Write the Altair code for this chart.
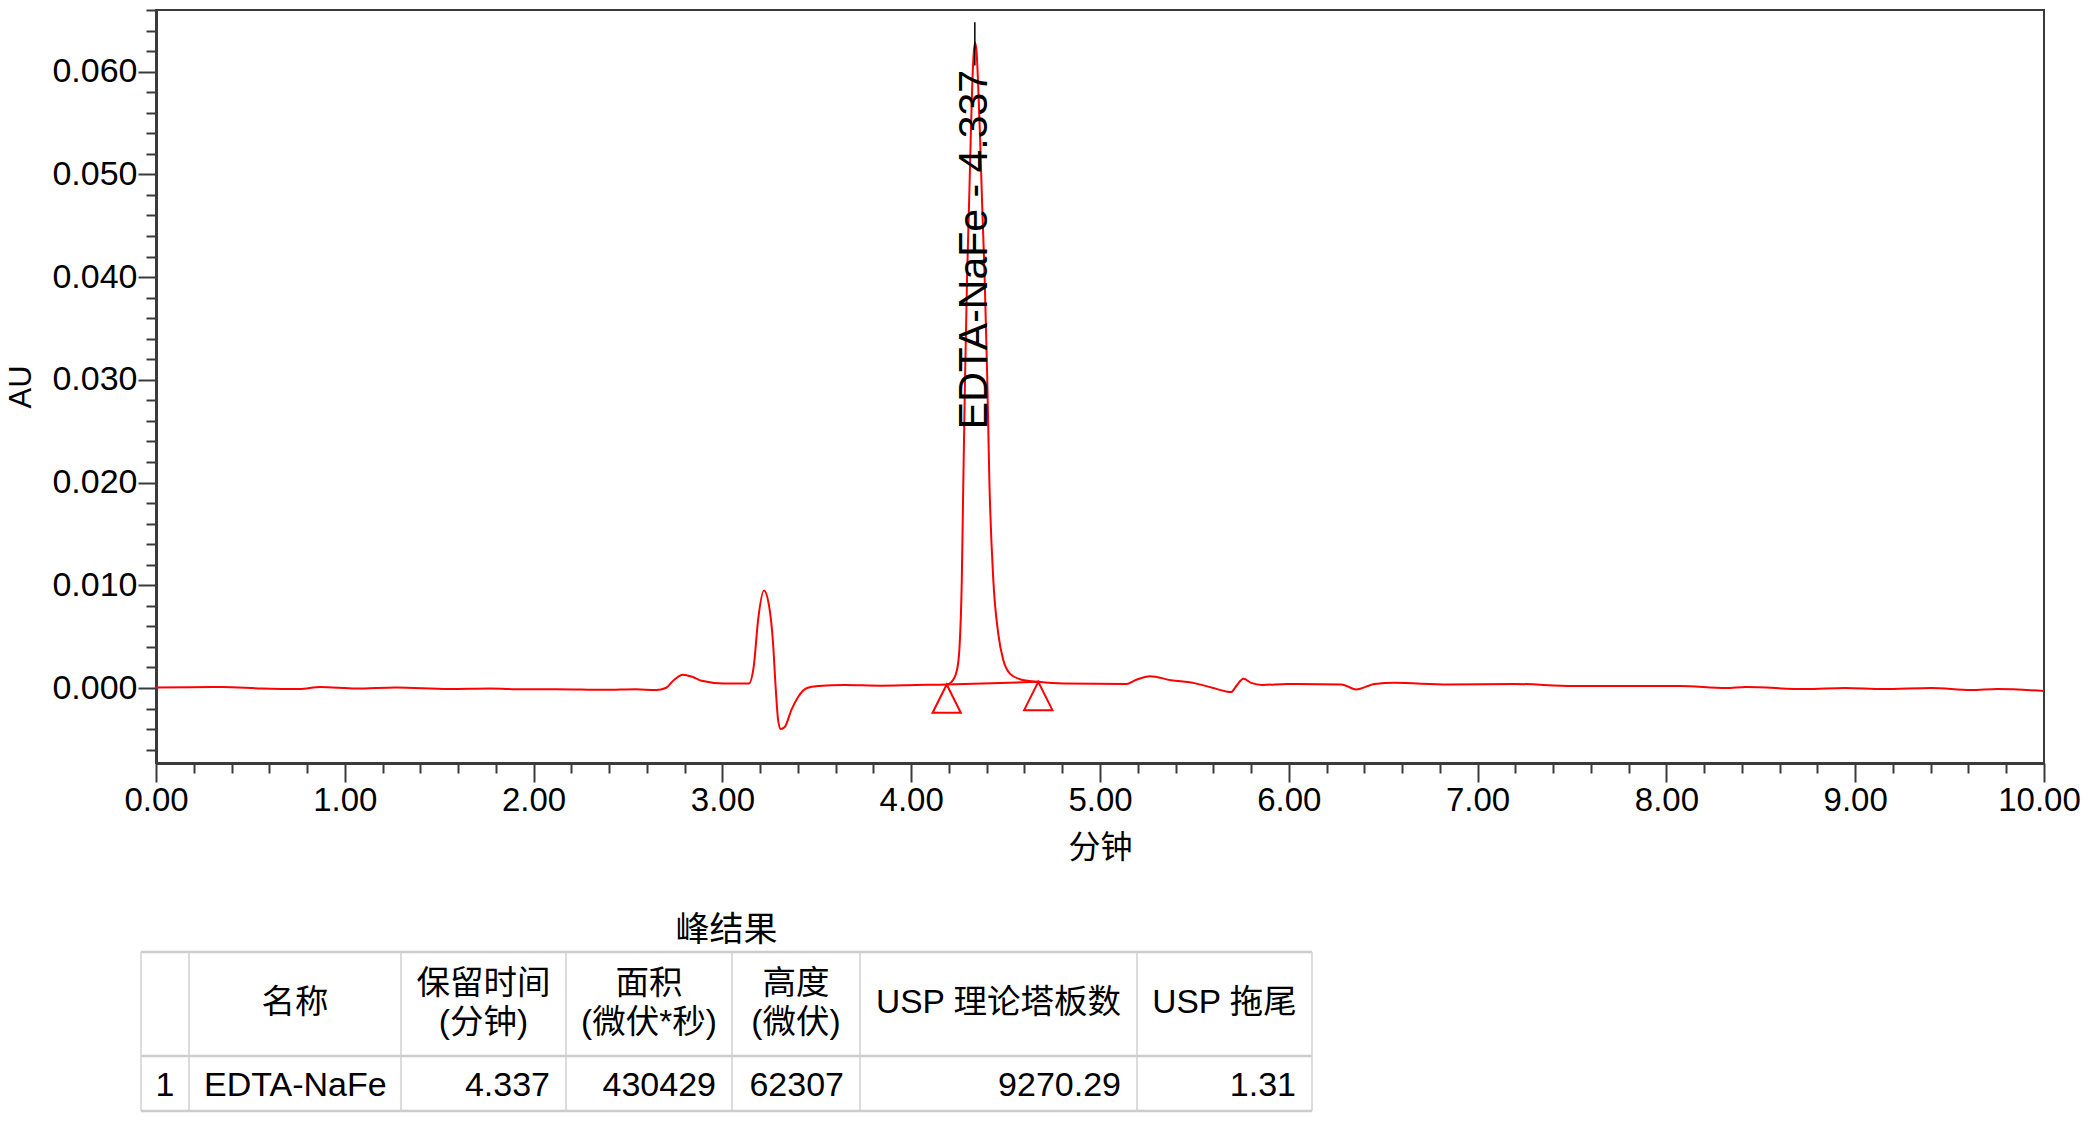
import altair as alt
import pandas as pd

# ---------------- chromatogram data ----------------
time_min = [0.00, 0.18, 0.35, 0.56, 0.76, 0.87, 1.06, 1.27, 1.55, 1.77, 1.94, 2.12,
            2.38, 2.54, 2.65, 2.70, 2.745, 2.79, 2.84, 2.89, 3.01, 3.14, 3.166, 3.189,
            3.22, 3.248, 3.267, 3.283, 3.295, 3.309, 3.33, 3.366, 3.401, 3.448, 3.507,
            3.649, 3.838, 4.027, 4.188, 4.214, 4.242, 4.256, 4.268, 4.276, 4.285, 4.296,
            4.307, 4.316, 4.323, 4.330, 4.338, 4.346, 4.354, 4.364, 4.375, 4.389, 4.403,
            4.414, 4.435, 4.461, 4.488, 4.523, 4.576, 4.673, 4.809, 5.14, 5.187, 5.265,
            5.376, 5.494, 5.60, 5.695, 5.718, 5.760, 5.801, 5.86, 5.99, 6.28, 6.356,
            6.455, 6.56, 6.841, 7.192, 7.508, 8.07, 8.316, 8.42, 8.737, 8.946, 9.147,
            9.404, 9.613, 9.754, 10.0]
absorbance = [0.00005, 0.00008, 0.0001, -0.00005, -0.0001, 0.0001, -0.00005, 0.00005,
              -0.0001, -0.00005, -0.00012, -0.00012, -0.00018, -0.00012, -0.0002, 0.0,
              0.0008, 0.0013, 0.0011, 0.0007, 0.00043, 0.00043, 0.0021, 0.0066, 0.0095,
              0.0079, 0.0047, -0.0002, -0.0031, -0.0040, -0.0038, -0.0021, -0.00087, 0.0,
              0.0002, 0.0003, 0.00023, 0.0003, 0.00034, 0.0006, 0.0017, 0.0040, 0.0105,
              0.0200, 0.0300, 0.0400, 0.0475, 0.0540, 0.0585, 0.0615, 0.0628, 0.0620,
              0.0590, 0.0540, 0.0475, 0.0400, 0.0300, 0.0202, 0.0105, 0.0053, 0.0027,
              0.0014, 0.00086, 0.0006, 0.00043, 0.0004, 0.00076, 0.00115, 0.00076, 0.0005,
              0.0, -0.0004, 0.0001, 0.0009, 0.0005, 0.0003, 0.0004, 0.00035, -0.00015,
              0.0004, 0.0005, 0.00035, 0.0004, 0.0002, 0.0002, 0.0, 0.0001, -0.0001, 0.0,
              -0.0001, 0.0, -0.0002, -0.0001, -0.0003]

# peak integration limits (start / end of EDTA-NaFe peak)
bound_time = [4.188, 4.673]
bound_au = [0.00034, 0.0006]

# peak annotation
peak_label = "EDTA-NaFe - 4.337"
peak_rt = 4.337
label_start_au = 0.0252
marker_au = [0.0606, 0.0648]

# axes
x_domain = [0.0, 10.0]
y_domain = [-0.0073, 0.066]
x_ticks = [round(i * 0.2, 1) for i in range(0, 51)]
y_ticks = [round(-0.006 + i * 0.002, 3) for i in range(0, 37)]

# ---------------- results table ----------------
table_title = "峰结果"
table_headers = ["", "名称", "保留时间\n(分钟)", "面积\n(微伏*秒)", "高度\n(微伏)", "USP 理论塔板数", "USP 拖尾"]
table_row = ["1", "EDTA-NaFe", "4.337", "430429", "62307", "9270.29", "1.31"]
row_align = ["center", "left", "right", "right", "right", "right", "right"]

# table layout (pixels relative to the plot area)
col_widths = [48, 212, 165, 166, 128, 277, 175]
table_left = -15
table_top = 942
header_h = 104
row_h = 62
line_h = 39
visible_bottom = 1101   # last pixel row that fits in the page

FONT = "Liberation Sans, Arial, Noto Sans CJK SC"
CJK = "Noto Sans CJK SC, Liberation Sans"
RED = "#ff0000"
AXC = "#3a3a3a"
W, H = 1888, 753

df = pd.DataFrame({"t": time_min, "au": absorbance})
bounds = pd.DataFrame({"t": bound_time, "au": bound_au})

X_MAJOR = "abs(datum.value - round(datum.value)) < 1e-6"
Y_MAJOR = "abs(datum.value * 100 - round(datum.value * 100)) < 1e-6"

x_axis = alt.Axis(values=x_ticks, title="分钟",
                  labelExpr=X_MAJOR + " ? format(datum.value, '.2f') : ''",
                  tickSize={"condition": {"test": X_MAJOR, "value": 19}, "value": 10},
                  labelOffset={"condition": {"test": "datum.value > 9.9", "value": -5}, "value": 0},
                  tickWidth=2, tickColor=AXC, domainColor=AXC, domainWidth=3,
                  labelFont=FONT, labelFontSize=33, labelColor="black", labelPadding=2,
                  labelFlush=False, labelOverlap=False, labelBound=False,
                  titleFont=CJK, titleFontSize=32, titleFontWeight="normal",
                  titleColor="black", titlePadding=15, grid=False)
y_axis = alt.Axis(values=y_ticks, title="AU",
                  labelExpr=Y_MAJOR + " ? format(datum.value, '.3f') : ''",
                  tickSize={"condition": {"test": Y_MAJOR, "value": 18}, "value": 10},
                  tickWidth=2, tickColor=AXC, domainColor=AXC, domainWidth=3,
                  labelFont=FONT, labelFontSize=34, labelColor="black", labelPadding=1,
                  labelFlush=False, labelOverlap=False, labelBound=False,
                  titleFont=FONT, titleFontSize=31, titleFontWeight="normal",
                  titleColor="black", titlePadding=14, grid=False)
x_scale = alt.Scale(domain=x_domain, nice=False, zero=False)
y_scale = alt.Scale(domain=y_domain, nice=False, zero=False)


def xe():
    return alt.X("t:Q", scale=x_scale, axis=x_axis)


def ye(field="au"):
    return alt.Y(field + ":Q", scale=y_scale, axis=y_axis)


trace = alt.Chart(df).mark_line(color=RED, strokeWidth=2, interpolate="monotone", clip=True).encode(
    x=xe(), y=ye(), order="t:Q")

baseline_seg = alt.Chart(bounds).mark_line(color=RED, strokeWidth=2).encode(x=xe(), y=ye())

markers = alt.Chart(bounds).mark_point(shape="M0,0L-1,2L1,2Z", size=800, filled=False,
                                       color=RED, strokeWidth=2, opacity=1).encode(x=xe(), y=ye())

rule_df = pd.DataFrame({"t": [peak_rt], "au": [marker_au[0]], "au2": [marker_au[1]]})
label_df = pd.DataFrame({"t": [peak_rt], "au": [label_start_au], "label": [peak_label]})
peak_rule = alt.Chart(rule_df).mark_rule(color="black", strokeWidth=1.5).encode(
    x=xe(), y=ye(), y2="au2:Q")
peak_text = alt.Chart(label_df).mark_text(angle=270, align="left", baseline="middle",
                                          fontSize=41, font=FONT, color="black").encode(
    x=xe(), y=ye(), text="label:N")

# ---------------- table marks ----------------
edges = [table_left]
for w in col_widths:
    edges.append(edges[-1] + w)
table_bottom = min(table_top + header_h + row_h, visible_bottom)

hlines = pd.DataFrame({"x1": [edges[0]] * 3, "x2": [edges[-1]] * 3,
                       "y": [table_top, table_top + header_h, table_bottom]})
vlines = pd.DataFrame({"x": edges, "y1": [table_top] * len(edges), "y2": [table_bottom] * len(edges)})

h_rules = alt.Chart(hlines).mark_rule(color="#cccccc", strokeWidth=2.5).encode(
    x=alt.X("x1:Q", scale=None, axis=None), x2="x2:Q",
    y=alt.Y("y:Q", scale=None, axis=None))
v_rules = alt.Chart(vlines).mark_rule(color="#d0d0d0", strokeWidth=1.5).encode(
    x=alt.X("x:Q", scale=None, axis=None),
    y=alt.Y("y1:Q", scale=None, axis=None), y2="y2:Q")

cells = []
for i, h in enumerate(table_headers):
    if h:
        n = h.count("\n") + 1
        cells.append({"px": (edges[i] + edges[i + 1]) / 2,
                      "py": table_top + header_h / 2 - (n - 1) * line_h / 2 - 1,
                      "txt": h, "al": "center", "fs": 33.5})
for i, v in enumerate(table_row):
    al = row_align[i]
    if al == "center":
        px = (edges[i] + edges[i + 1]) / 2
    elif al == "left":
        px = edges[i] + 15
    else:
        px = edges[i + 1] - 16
    cells.append({"px": px, "py": table_top + header_h + row_h / 2 - 1, "txt": v, "al": al, "fs": 34})
cells.append({"px": (edges[0] + edges[-1]) / 2, "py": table_top - 21, "txt": table_title,
              "al": "center", "fs": 34})
cells_df = pd.DataFrame(cells)


def text_layer(al):
    return alt.Chart(cells_df[cells_df["al"] == al]).mark_text(
        align=al, baseline="middle", font=FONT, color="black", lineBreak="\n",
        lineHeight=line_h).encode(
        x=alt.X("px:Q", scale=None, axis=None), y=alt.Y("py:Q", scale=None, axis=None),
        text="txt:N", size=alt.Size("fs:Q", scale=None, legend=None))


chart = alt.layer(trace, baseline_seg, markers, peak_rule, peak_text,
                  h_rules, v_rules, text_layer("center"), text_layer("left"), text_layer("right")
                  ).properties(
    width=W, height=H,
    autosize=alt.AutoSizeParams(type="none"),
    padding={"left": 148, "top": 2, "right": 37, "bottom": 350},
).configure_axis(labelOverlap=False).configure_view(stroke=AXC, strokeWidth=2)

chart.save("out.html", embed_options={"renderer": "svg", "actions": False})
